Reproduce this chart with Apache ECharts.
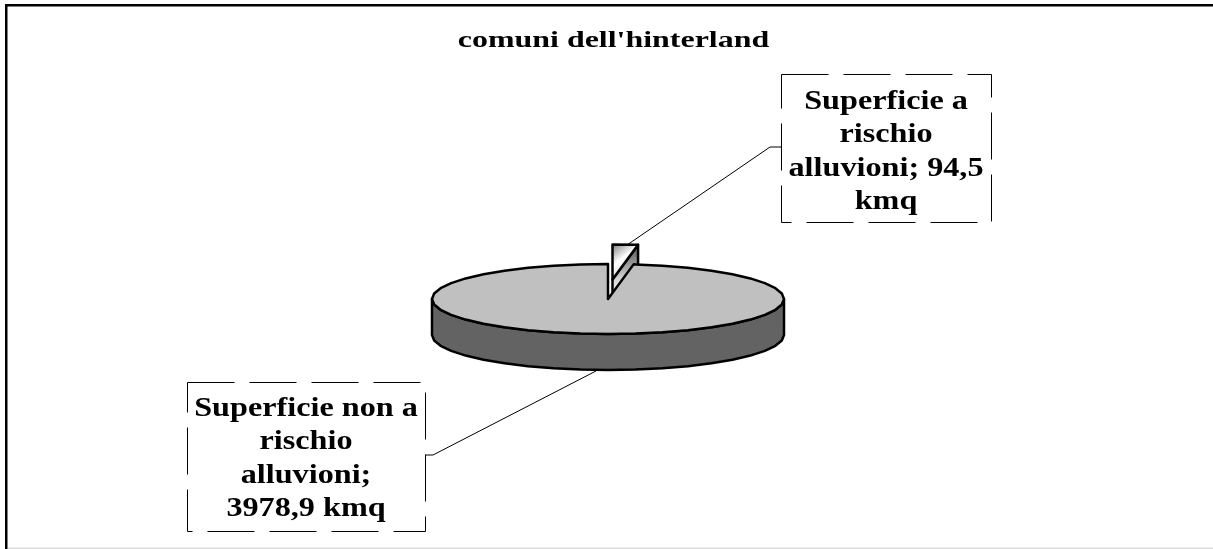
<!DOCTYPE html>
<html>
<head>
<meta charset="utf-8">
<title>comuni dell'hinterland</title>
<style>
    html, body { margin: 0; padding: 0; background: #fff; }
    #chart { width: 1213px; height: 549px; }
</style>
<script src="https://cdn.jsdelivr.net/npm/echarts@6/dist/echarts.min.js"></script>
</head>
<body>
<div id="chart"></div>
<script>
// dati (kmq)
const categories = ['Superficie a rischio alluvioni', 'Superficie non a rischio alluvioni']
const values = [94.5, 3978.9]
const labelLines = [
    ['Superficie a', 'rischio', 'alluvioni; 94,5', 'kmq'],
    ['Superficie non a', 'rischio', 'alluvioni;', '3978,9 kmq']
]
const titleText = "comuni dell'hinterland"

// geometria della torta finta 3D
const cx = 608, cy = 299, rx = 176, ry = 35, depth = 36
const explodeX = 4.5, explodeY = -19.6
const total = values.reduce((a, b) => a + b, 0)
const serif = '"Liberation Serif", serif'

// caselle delle etichette e linee guida
const boxes = [
    { x: 781, y: 74, w: 210, h: 148, tx: 886, ty: 152, line: [[781, 147], [770, 147], [627, 245]] },
    { x: 187, y: 382, w: 238, h: 149, tx: 306, ty: 459, line: [[425, 455], [433, 455], [596, 371]] }
]

function rim(deg, ox, oy) {
    const a = deg * Math.PI / 180
    return [cx + ox + rx * Math.sin(a), cy + oy - ry * Math.cos(a)]
}

// i vertici cadono sui multipli di step: il bordo resta spezzato come nell'originale
function arc(from, to, ox, oy) {
    const step = 9
    const pts = [rim(from, ox, oy)]
    for (let d = Math.floor(from / step + 1) * step; d < to; d += step) pts.push(rim(d, ox, oy))
    pts.push(rim(to, ox, oy))
    return pts
}

function poly(points, fill, z2) {
    return {
        type: 'polygon',
        z2: z2,
        shape: { points: points },
        style: { fill: fill, stroke: '#000', lineWidth: 2.5, lineJoin: 'round' }
    }
}

function drawSmallSlice(sweep) {
    const apex = [cx + explodeX, cy + explodeY]
    const edge = rim(sweep, explodeX, explodeY)
    const side = [apex, edge, [edge[0], edge[1] + depth], [apex[0], apex[1] + depth]]
    const sideFill = new echarts.graphic.LinearGradient(0, 0, 0, 1, [
        { offset: 0, color: '#4a4a4a' },
        { offset: 0.5, color: '#d8d8d8' },
        { offset: 0.62, color: '#f0f0f0' },
        { offset: 0.8, color: '#1c1c1c' },
        { offset: 1, color: '#1c1c1c' }
    ])
    const faceFill = new echarts.graphic.LinearGradient(0, 0, 1, 1, [
        { offset: 0, color: '#707070' },
        { offset: 0.4, color: '#ffffff' },
        { offset: 0.6, color: '#e8e8e8' },
        { offset: 1, color: '#6e6e6e' }
    ])
    return [
        poly(side, sideFill, 1),
        poly([apex].concat(arc(0, sweep, explodeX, explodeY)), faceFill, 2)
    ]
}

function drawBigSlice(start) {
    const top = arc(90, 270, 0, 0)
    const bottom = arc(90, 270, 0, depth).reverse()
    return [
        poly(top.concat(bottom), '#636363', 3),
        poly([[cx, cy]].concat(arc(start, 360, 0, 0)), '#c0c0c0', 4)
    ]
}

function drawLabel(i) {
    const b = boxes[i]
    return [
        {
            type: 'polyline',
            z2: 5,
            shape: { points: b.line },
            style: { fill: null, stroke: '#000', lineWidth: 1 }
        },
        {
            type: 'rect',
            z2: 6,
            shape: { x: b.x + 0.5, y: b.y + 0.5, width: b.w, height: b.h },
            style: { fill: '#fff', stroke: '#000', lineWidth: 1, lineDash: [47, 15] }
        },
        {
            type: 'text',
            z2: 7,
            x: b.tx,
            y: b.ty,
            scaleX: 1.15,
            style: {
                x: 0,
                y: 0,
                text: labelLines[i].join('\n'),
                font: 'bold 28px ' + serif,
                lineHeight: 33.5,
                fill: '#000',
                align: 'center',
                verticalAlign: 'middle'
            }
        }
    ]
}

let chart = echarts.init(document.getElementById('chart'))
chart.setOption({
    animation: false,
    backgroundColor: '#fff',
    // cornice esterna e titolo
    graphic: [
        { type: 'rect', shape: { x: 5, y: 4, width: 1208, height: 2.5 }, style: { fill: '#000' } },
        { type: 'rect', shape: { x: 5, y: 4, width: 2.5, height: 545 }, style: { fill: '#000' } },
        { type: 'rect', shape: { x: 8, y: 547.5, width: 1205, height: 1.5 }, style: { fill: '#d9d9d9' } },
        {
            type: 'text',
            x: 613.5,
            y: 40.5,
            scaleX: 1.33,
            style: {
                x: 0,
                y: 0,
                text: titleText,
                font: 'bold 24px ' + serif,
                fill: '#000',
                align: 'center',
                verticalAlign: 'middle'
            }
        }
    ],
    series: [
        {
            type: 'custom',
            coordinateSystem: 'none',
            silent: true,
            data: values.map((v, i) => ({ name: categories[i], value: [v] })),
            renderItem: function (params, api) {
                const i = params.dataIndex
                const sweep = values[0] / total * 360
                const marks = i === 0 ? drawSmallSlice(api.value(0) / total * 360) : drawBigSlice(sweep)
                return { type: 'group', children: marks.concat(drawLabel(i)) }
            }
        }
    ]
})
</script>
</body>
</html>
